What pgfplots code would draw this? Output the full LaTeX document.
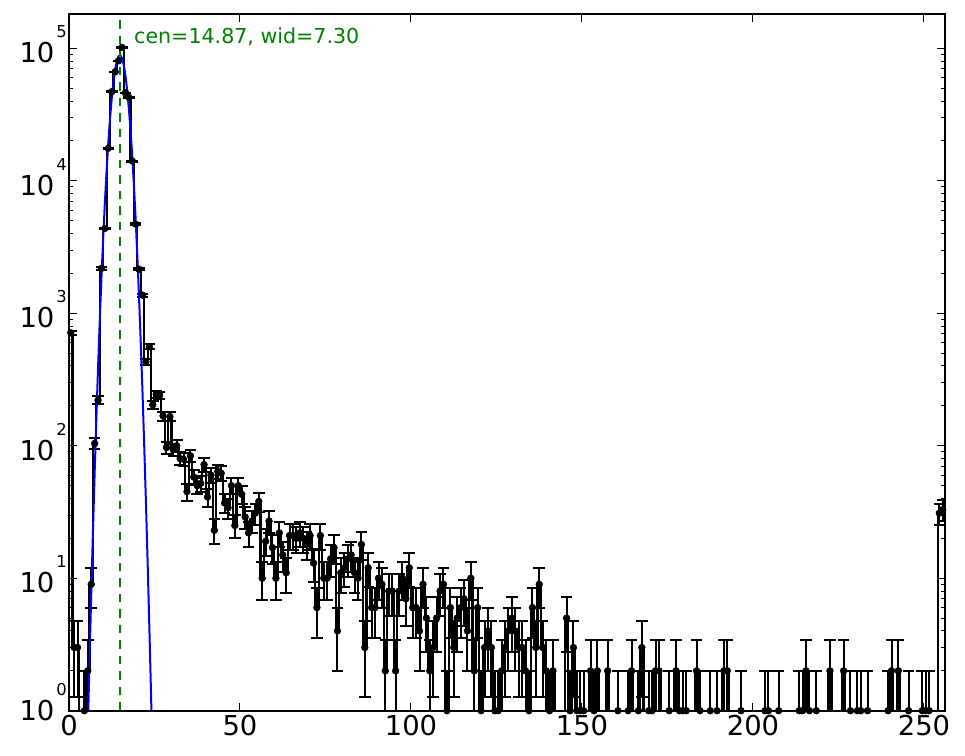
\documentclass[border=0pt]{standalone}
\usepackage{pgfplots}
\pgfplotsset{compat=1.18}
\usepackage{pgfplotstable}
\usepackage{fontspec}
\setmainfont{DejaVu Sans}
\definecolor{mplgreen}{rgb}{0,0.5,0}
\definecolor{mplblue}{rgb}{0,0,1}
\newcommand{\lt}[1]{10\hspace{2bp}\raisebox{25bp}{\fontsize{16.4bp}{18bp}\selectfont #1}}

\pgfplotstableread{
x y ep em
0.5 713 26.7 26.7
1.5 3 1.73 1.73
2.5 3 1.73 1.73
3.5 0.01 0 0
4.5 1 1 0.99
5.5 2 1.41 1.41
6.5 9 3 3
7.5 104 10.2 10.2
8.5 221 14.9 14.9
9.5 2180 46.7 46.7
10.5 4370 66.1 66.1
11.5 17600 132.7 132.7
12.5 47000 216.8 216.8
13.5 66500 257.9 257.9
14.5 80500 283.7 283.7
15.5 101600 318.7 318.7
16.5 46100 214.7 214.7
17.5 42600 206.4 206.4
18.5 14100 118.7 118.7
19.5 4710 68.6 68.6
20.5 2150 46.4 46.4
21.5 1370 37 37
22.5 430 20.7 20.7
23.5 559 23.6 23.6
24.5 204 14.3 14.3
25.5 245 15.7 15.7
26.5 241 15.5 15.5
27.5 168 13 13
28.5 97 9.85 9.85
29.5 166 12.9 12.9
30.5 93 9.64 9.64
31.5 100 10 10
32.5 80 8.94 8.94
33.5 79 8.89 8.89
34.5 45 6.71 6.71
35.5 84 9.17 9.17
36.5 58 7.62 7.62
37.5 50 7.07 7.07
38.5 52 7.21 7.21
39.5 72 8.49 8.49
40.5 41 6.4 6.4
41.5 60 7.75 7.75
42.5 23 4.8 4.8
43.5 64 8 8
44.5 62 7.87 7.87
45.5 37 6.08 6.08
46.5 34 5.83 5.83
47.5 50 7.07 7.07
48.5 25 5 5
49.5 50 7.07 7.07
50.5 43 6.56 6.56
51.5 29 5.39 5.39
52.5 22 4.69 4.69
53.5 27 5.2 5.2
54.5 31 5.57 5.57
55.5 38 6.16 6.16
56.5 10 3.16 3.16
57.5 19 4.36 4.36
58.5 27 5.2 5.2
59.5 17 4.12 4.12
60.5 10 3.16 3.16
61.5 22 4.69 4.69
62.5 15 3.87 3.87
63.5 11 3.32 3.32
64.5 21 4.58 4.58
65.5 21 4.58 4.58
66.5 20 4.47 4.47
67.5 22 4.69 4.69
68.5 20 4.47 4.47
69.5 18 4.24 4.24
70.5 21 4.58 4.58
71.5 13 3.61 3.61
72.5 6 2.45 2.45
73.5 21 4.58 4.58
74.5 10 3.16 3.16
75.5 10 3.16 3.16
76.5 14 3.74 3.74
77.5 17 4.12 4.12
78.5 4 2 2
79.5 11 3.32 3.32
80.5 12 3.46 3.46
81.5 14 3.74 3.74
82.5 15 3.87 3.87
83.5 11 3.32 3.32
84.5 10 3.16 3.16
85.5 18 4.24 4.24
86.5 3 1.73 1.73
87.5 12 3.46 3.46
88.5 6 2.45 2.45
89.5 6 2.45 2.45
90.5 10 3.16 3.16
91.5 9 3 3
92.5 2 1.41 1.41
93.5 8 2.83 2.83
94.5 8 2.83 2.83
95.5 2 1.41 1.41
96.5 8 2.83 2.83
97.5 10 3.16 3.16
98.5 7 2.65 2.65
99.5 12 3.46 3.46
100.5 6 2.45 2.45
101.5 6 2.45 2.45
102.5 4 2 2
103.5 9 3 3
104.5 5 2.24 2.24
105.5 2 1.41 1.41
106.5 3 1.73 1.73
107.5 5 2.24 2.24
108.5 8 2.83 2.83
109.5 9 3 3
110.5 1 1 0.99
111.5 6 2.45 2.45
112.5 3 1.73 1.73
113.5 5 2.24 2.24
114.5 6 2.45 2.45
115.5 7 2.65 2.65
116.5 4 2 2
117.5 10 3.16 3.16
118.5 2 1.41 1.41
119.5 6 2.45 2.45
120.5 1 1 0.99
121.5 3 1.73 1.73
122.5 4 2 2
123.5 3 1.73 1.73
124.5 1 1 0.99
125.5 1 1 0.99
126.5 2 1.41 1.41
127.5 3 1.73 1.73
128.5 4 2 2
129.5 5 2.24 2.24
130.5 4 2 2
131.5 3 1.73 1.73
132.5 3 1.73 1.73
133.5 2 1.41 1.41
134.5 1 1 0.99
135.5 6 2.45 2.45
136.5 3 1.73 1.73
137.5 9 3 3
138.5 3 1.73 1.73
139.5 2 1.41 1.41
140.5 1 1 0.99
141.5 2 1.41 1.41
142.5 0.01 0 0
143.5 0.01 0 0
144.5 0.01 0 0
145.5 5 2.24 2.24
146.5 1 1 0.99
147.5 3 1.73 1.73
148.5 1 1 0.99
149.5 1 1 0.99
150.5 1 1 0.99
151.5 0.01 0 0
152.5 2 1.41 1.41
153.5 1 1 0.99
154.5 2 1.41 1.41
155.5 0.01 0 0
156.5 0.01 0 0
157.5 2 1.41 1.41
158.5 0.01 0 0
159.5 0.01 0 0
160.5 1 1 0.99
161.5 0.01 0 0
162.5 0.01 0 0
163.5 1 1 0.99
164.5 2 1.41 1.41
165.5 0.01 0 0
166.5 1 1 0.99
167.5 3 1.73 1.73
168.5 0.01 0 0
169.5 1 1 0.99
170.5 1 1 0.99
171.5 2 1.41 1.41
172.5 2 1.41 1.41
173.5 0.01 0 0
174.5 0.01 0 0
175.5 1 1 0.99
176.5 0.01 0 0
177.5 2 1.41 1.41
178.5 1 1 0.99
179.5 1 1 0.99
180.5 1 1 0.99
181.5 0.01 0 0
182.5 0.01 0 0
183.5 2 1.41 1.41
184.5 1 1 0.99
185.5 0.01 0 0
186.5 0.01 0 0
187.5 1 1 0.99
188.5 0.01 0 0
189.5 1 1 0.99
190.5 0.01 0 0
191.5 2 1.41 1.41
192.5 2 1.41 1.41
193.5 0.01 0 0
194.5 0.01 0 0
195.5 0.01 0 0
196.5 1 1 0.99
197.5 0.01 0 0
198.5 0.01 0 0
199.5 0.01 0 0
200.5 0.01 0 0
201.5 0.01 0 0
202.5 0.01 0 0
203.5 1 1 0.99
204.5 1 1 0.99
205.5 0.01 0 0
206.5 0.01 0 0
207.5 1 1 0.99
208.5 0.01 0 0
209.5 0.01 0 0
210.5 0.01 0 0
211.5 0.01 0 0
212.5 0.01 0 0
213.5 1 1 0.99
214.5 1 1 0.99
215.5 2 1.41 1.41
216.5 1 1 0.99
217.5 0.01 0 0
218.5 1 1 0.99
219.5 0.01 0 0
220.5 0.01 0 0
221.5 0.01 0 0
222.5 2 1.41 1.41
223.5 0.01 0 0
224.5 0.01 0 0
225.5 0.01 0 0
226.5 2 1.41 1.41
227.5 0.01 0 0
228.5 1 1 0.99
229.5 0.01 0 0
230.5 1 1 0.99
231.5 1 1 0.99
232.5 0.01 0 0
233.5 1 1 0.99
234.5 0.01 0 0
235.5 0.01 0 0
236.5 0.01 0 0
237.5 0.01 0 0
238.5 0.01 0 0
239.5 1 1 0.99
240.5 2 1.41 1.41
241.5 0.01 0 0
242.5 2 1.41 1.41
243.5 0.01 0 0
244.5 0.01 0 0
245.5 1 1 0.99
246.5 0.01 0 0
247.5 0.01 0 0
248.5 0.01 0 0
249.5 1 1 0.99
250.5 1 1 0.99
251.5 1 1 0.99
252.5 0.01 0 0
253.5 0.01 0 0
254.5 31 5.57 5.57
255.5 33 5.74 5.74
}\histdata

\begin{document}
\begin{tikzpicture}
\begin{axis}[
  at={(69bp,45.3bp)}, anchor=south west,
  scale only axis, width=875.5bp, height=696.4bp,
  xmin=0, xmax=256, ymode=log, ymin=1, ymax=180600,
  axis on top,
  axis line style={line width=2bp, black},
  xtick={0,50,100,150,200,250},
  xticklabels={0,50,100,150,200,250},
  ytick={1,10,100,1000,10000,100000},
  yticklabels={\raisebox{5.4bp}{\lt{0}},\lt{1},\lt{2},\lt{3},\lt{4},\lt{5}},
  minor ytick={2,3,4,5,6,7,8,9,20,30,40,50,60,70,80,90,200,300,400,500,600,700,800,900,2000,3000,4000,5000,6000,7000,8000,9000,20000,30000,40000,50000,60000,70000,80000,90000},
  xtick pos=both, ytick pos=both,
  tick align=inside,
  major tick length=8bp, minor tick length=4bp,
  tick style={line width=1bp, black},
  xticklabel style={font=\fontsize{27.4bp}{30bp}\selectfont, inner sep=0pt, anchor=north, yshift=-4.5bp},
  yticklabel style={font=\fontsize{27.4bp}{30bp}\selectfont, inner sep=0pt, anchor=base east, xshift=-2bp, yshift=-14.7bp},
]
\addplot[black, line width=2.2bp, const plot mark mid, mark=*, mark size=3.4bp,
  mark options={solid, fill=black, line width=0.5bp},
  error bars/.cd, y dir=both, y explicit,
  error bar style={line width=2bp, black},
  error mark=-,
  error mark options={rotate=90, black, line width=2bp, mark size=5.8bp}]
  table[x=x, y=y, y error plus=ep, y error minus=em] {\histdata};
\addplot[mplblue, line width=2bp, no marks] coordinates {
(5.0,0.196) (5.5,0.710) (6.0,2.40) (6.5,7.60) (7.0,22.5) (7.5,62.4) (8.0,162) (8.5,392)
(9.0,887) (9.5,1884) (10.0,3733) (10.5,6918) (11.0,11995) (11.5,19484) (12.0,29570)
(12.5,41970) (13.0,55720) (13.5,69180) (14.0,80350) (14.5,87300) (15.0,88720)
(15.5,84330) (16.0,74990) (16.5,62330) (17.0,48480) (17.5,35270) (18.0,24000)
(18.5,15270) (19.0,9094) (19.5,5062) (20.0,2636) (20.5,1285) (21.0,585) (21.5,249)
(22.0,99.3) (22.5,37.1) (23.0,12.9) (23.5,4.22) (24.0,1.29) (24.5,0.367)
};
\addplot[mplgreen, line width=2bp, no marks, dash pattern=on 8.5bp off 7bp] coordinates {(14.87,1) (14.87,180600)};
\node[anchor=base west, text=mplgreen, font=\fontsize{20.6bp}{24bp}\selectfont, inner sep=0pt] at (axis cs:19,109400) {cen=14.87, wid=7.30};
\end{axis}
\pgfresetboundingbox
\path[use as bounding box] (0,0) rectangle (965bp,756bp);
\end{tikzpicture}
\end{document}
